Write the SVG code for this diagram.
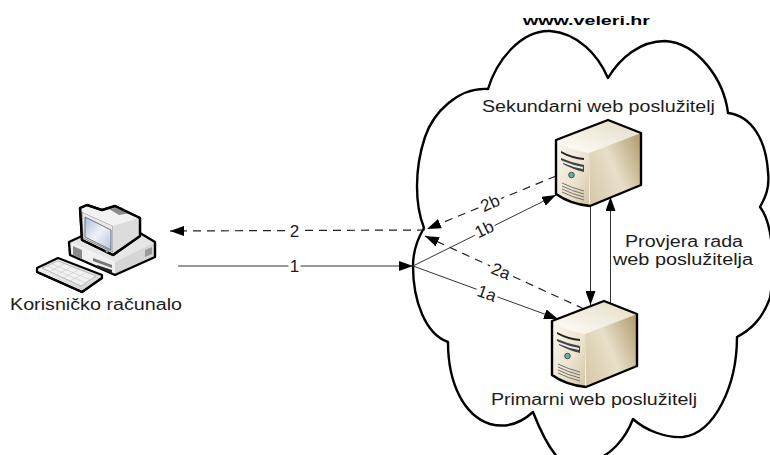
<svg xmlns="http://www.w3.org/2000/svg" width="770" height="455" viewBox="0 0 770 455">
<style>
text{font-family:"Liberation Sans",Arial,sans-serif;font-size:16px;fill:#1c1c1c}
.lbl{font-size:17px;text-anchor:middle}
.line{stroke:#333;stroke-width:1;fill:none}
.dash{stroke:#222;stroke-width:1.2;fill:none;stroke-dasharray:8 6}
.edge{stroke:#000;stroke-width:2.4;stroke-linejoin:round;fill:none}
.bodyedge{stroke:#000;stroke-width:2.2;stroke-linejoin:round}
</style>
<defs>
<marker id="arr" viewBox="0 0 14 10" refX="14" refY="5" markerWidth="14" markerHeight="10" markerUnits="userSpaceOnUse" orient="auto"><path d="M0 0L14 5L0 10Z" fill="#000"/></marker>
<linearGradient id="front" x1="0" y1="0" x2="1" y2="1"><stop offset="0" stop-color="#fbf8f0"/><stop offset="0.6" stop-color="#ece3cf"/><stop offset="1" stop-color="#d3c5a4"/></linearGradient>
<linearGradient id="side" x1="0" y1="0.8" x2="1" y2="0.2"><stop offset="0" stop-color="#d8cbaa"/><stop offset="0.5" stop-color="#e8dfc9"/><stop offset="1" stop-color="#b7a376"/></linearGradient>
<linearGradient id="top" x1="0" y1="1" x2="1" y2="0"><stop offset="0" stop-color="#fffefa"/><stop offset="1" stop-color="#e4dbc6"/></linearGradient>
<linearGradient id="screen" x1="0" y1="0" x2="1" y2="1"><stop offset="0" stop-color="#aebdd8"/><stop offset="0.5" stop-color="#eef2fa"/><stop offset="1" stop-color="#b5c3dd"/></linearGradient>
<linearGradient id="grey" x1="0" y1="0" x2="1" y2="1"><stop offset="0" stop-color="#f6f6f6"/><stop offset="1" stop-color="#cfcfcf"/></linearGradient>
<g id="server">
<path d="M0 20L52 0L85 13L33 33Q14 30 0 20Z" fill="url(#top)"/>
<path d="M0 20Q14 30 33 33V86Q14 84 0 74Z" fill="url(#front)"/>
<path d="M33 33L85 13V65L34 86Z" fill="url(#side)"/>
<path d="M0 20L52 0L85 13V65L34 86Q14 84 0 74Z" class="edge"/>
<path d="M5 31Q16 37 28 38V40Q16 39 5 33Z" fill="#222"/>
<path d="M5 38Q16 43 28 45V52Q16 49 7 44V41L5 40Z" fill="#444"/>
<path d="M7 41Q16 45 27 47V49Q16 47 7 43Z" fill="#eee"/>
<circle cx="15.500" cy="55" r="2.800" fill="#5fb596" stroke="#334" stroke-width="0.800"/>
<path d="M6 63Q16 68 28 71M6 66Q16 71 28 74M6 69Q16 74 28 77M6 72Q16 77 28 80" stroke="#555" stroke-width="0.800" fill="none"/>
</g>
</defs>
<g id="cloud"><path class="edge" d="M424 228C415 205 414 170 425 137C433 113 458 87 488 89C496 62 520 30 550 31C578 33 598 55 608 78C620 58 640 41 665 41C698 43 724 80 728 113C752 116 766 140 768 172C770 188 765 198 760 207C772 222 776 262 770 298C762 320 750 330 737 337C737 385 715 433 683 437C665 438 645 430 633 419C625 440 610 455 595 460L560 460C548 448 540 430 533 412C520 424 505 428 490 424C465 416 448 385 448 342C425 334 413 300 413 266C413 250 418 238 424 228Z"/></g>
<g id="connectors">
<path class="line" d="M178 266H413" marker-end="url(#arr)"/>
<path class="dash" d="M425 230L170 231" marker-end="url(#arr)"/>
<path class="line" d="M413 266L556 195" marker-end="url(#arr)"/>
<path class="line" d="M413 266L558 319" marker-end="url(#arr)"/>
<path class="dash" d="M556 176L427 229" marker-end="url(#arr)"/>
<path class="dash" d="M584 309L425 236" marker-end="url(#arr)"/>
<path class="line" d="M590.500 206V305" marker-end="url(#arr)"/>
<path class="line" d="M610.500 304V197" marker-end="url(#arr)"/>
<rect x="288.500" y="222" width="12" height="18" fill="#fff"/>
<rect x="288.500" y="257" width="12" height="18" fill="#fff"/>
<text class="lbl" x="294.500" y="237">2</text>
<text class="lbl" x="294.500" y="271.500">1</text>
<g transform="translate(490 203) rotate(-24)"><rect x="-12" y="-9" width="24" height="18" fill="#fff"/><text class="lbl" y="6">2b</text></g>
<g transform="translate(484 229) rotate(-26)"><rect x="-11" y="-9" width="22" height="18" fill="#fff"/><text class="lbl" y="6">1b</text></g>
<g transform="translate(501 271) rotate(22)"><rect x="-12" y="-9" width="24" height="18" fill="#fff"/><text class="lbl" y="6">2a</text></g>
<g transform="translate(487 293) rotate(20)"><rect x="-11" y="-9" width="22" height="18" fill="#fff"/><text class="lbl" y="6">1a</text></g>
</g>
<g id="secondary"><use href="#server" transform="translate(556 120)"/></g>
<g id="primary"><use href="#server" transform="translate(552 301)"/></g>
<g id="computer">
<path d="M58 258L37 268V272L82 292L102 278V275Z" fill="url(#grey)" class="bodyedge"/>
<path d="M42 268L58 261L96 276L81 286Z" fill="#f2f2f2" stroke="#aaa" stroke-width="0.800"/>
<path d="M47 266L86 283M52 264L91 280M49 272L64 264M56 275L71 267M63 278L78 270M70 281L85 273" stroke="#ccc" stroke-width="0.700" fill="none"/>
<path d="M37 272L82 292L102 278" stroke="#000" stroke-width="2" fill="none"/>
<path d="M69 242L82 236L140 233L155 242L115 262Z" fill="#e6e6e6"/>
<path d="M69 242L115 262V275L70 255Z" fill="#f0f0f0"/>
<path d="M115 262L155 242V257L115 275Z" fill="#d6d6d6"/>
<path d="M69 242L82 236L140 233L155 242V257L115 275L70 255Z" class="edge"/>
<path d="M73 246L82 250V259L73 255Z" fill="#8a8a8a"/>
<path d="M93 258L112 265V268L93 261Z" fill="#777"/>
<path d="M97 265L112 270V273L97 268Z" fill="#222"/>
<path d="M145 250L152 247V254L145 257Z" fill="#999"/>
<path d="M80 208L87 205L102 210L115 206L140 218V236L113 255L82 240Z" fill="url(#grey)" class="bodyedge"/>
<path d="M82 212L113 226V252L83 238Z" fill="#e8e8e8" stroke="#777" stroke-width="0.800"/>
<path d="M85 217L111 230V250L85 237Z" fill="url(#screen)" stroke="#555" stroke-width="0.800"/>
<path d="M113 226L138 218L113 209L102 212L88 207L82 212Z" fill="#f2f2f2"/>
<path d="M109 209L121 207L131 213L119 215Z" fill="#8c8c8c"/>
<path d="M113 226V253L139 236V219Z" fill="#dcdcdc"/>
<path d="M80 208L87 205L102 210L115 206L140 218V236L113 255L82 240Z" class="edge"/>
<circle cx="107" cy="251" r="1.500" fill="#5fb596"/>
</g>
<g id="labels">
<text x="523" y="25" textLength="127" lengthAdjust="spacingAndGlyphs" style="font-size:13.500px;font-weight:bold;fill:#000">www.veleri.hr</text>
<text x="482" y="112" textLength="233" lengthAdjust="spacingAndGlyphs">Sekundarni web poslužitelj</text>
<text x="625" y="247" textLength="118" lengthAdjust="spacingAndGlyphs">Provjera rada</text>
<text x="613" y="265" textLength="140" lengthAdjust="spacingAndGlyphs">web poslužitelja</text>
<text x="491" y="405" textLength="206" lengthAdjust="spacingAndGlyphs">Primarni web poslužitelj</text>
<text x="10" y="310" textLength="172" lengthAdjust="spacingAndGlyphs">Korisničko računalo</text>
</g>
</svg>
